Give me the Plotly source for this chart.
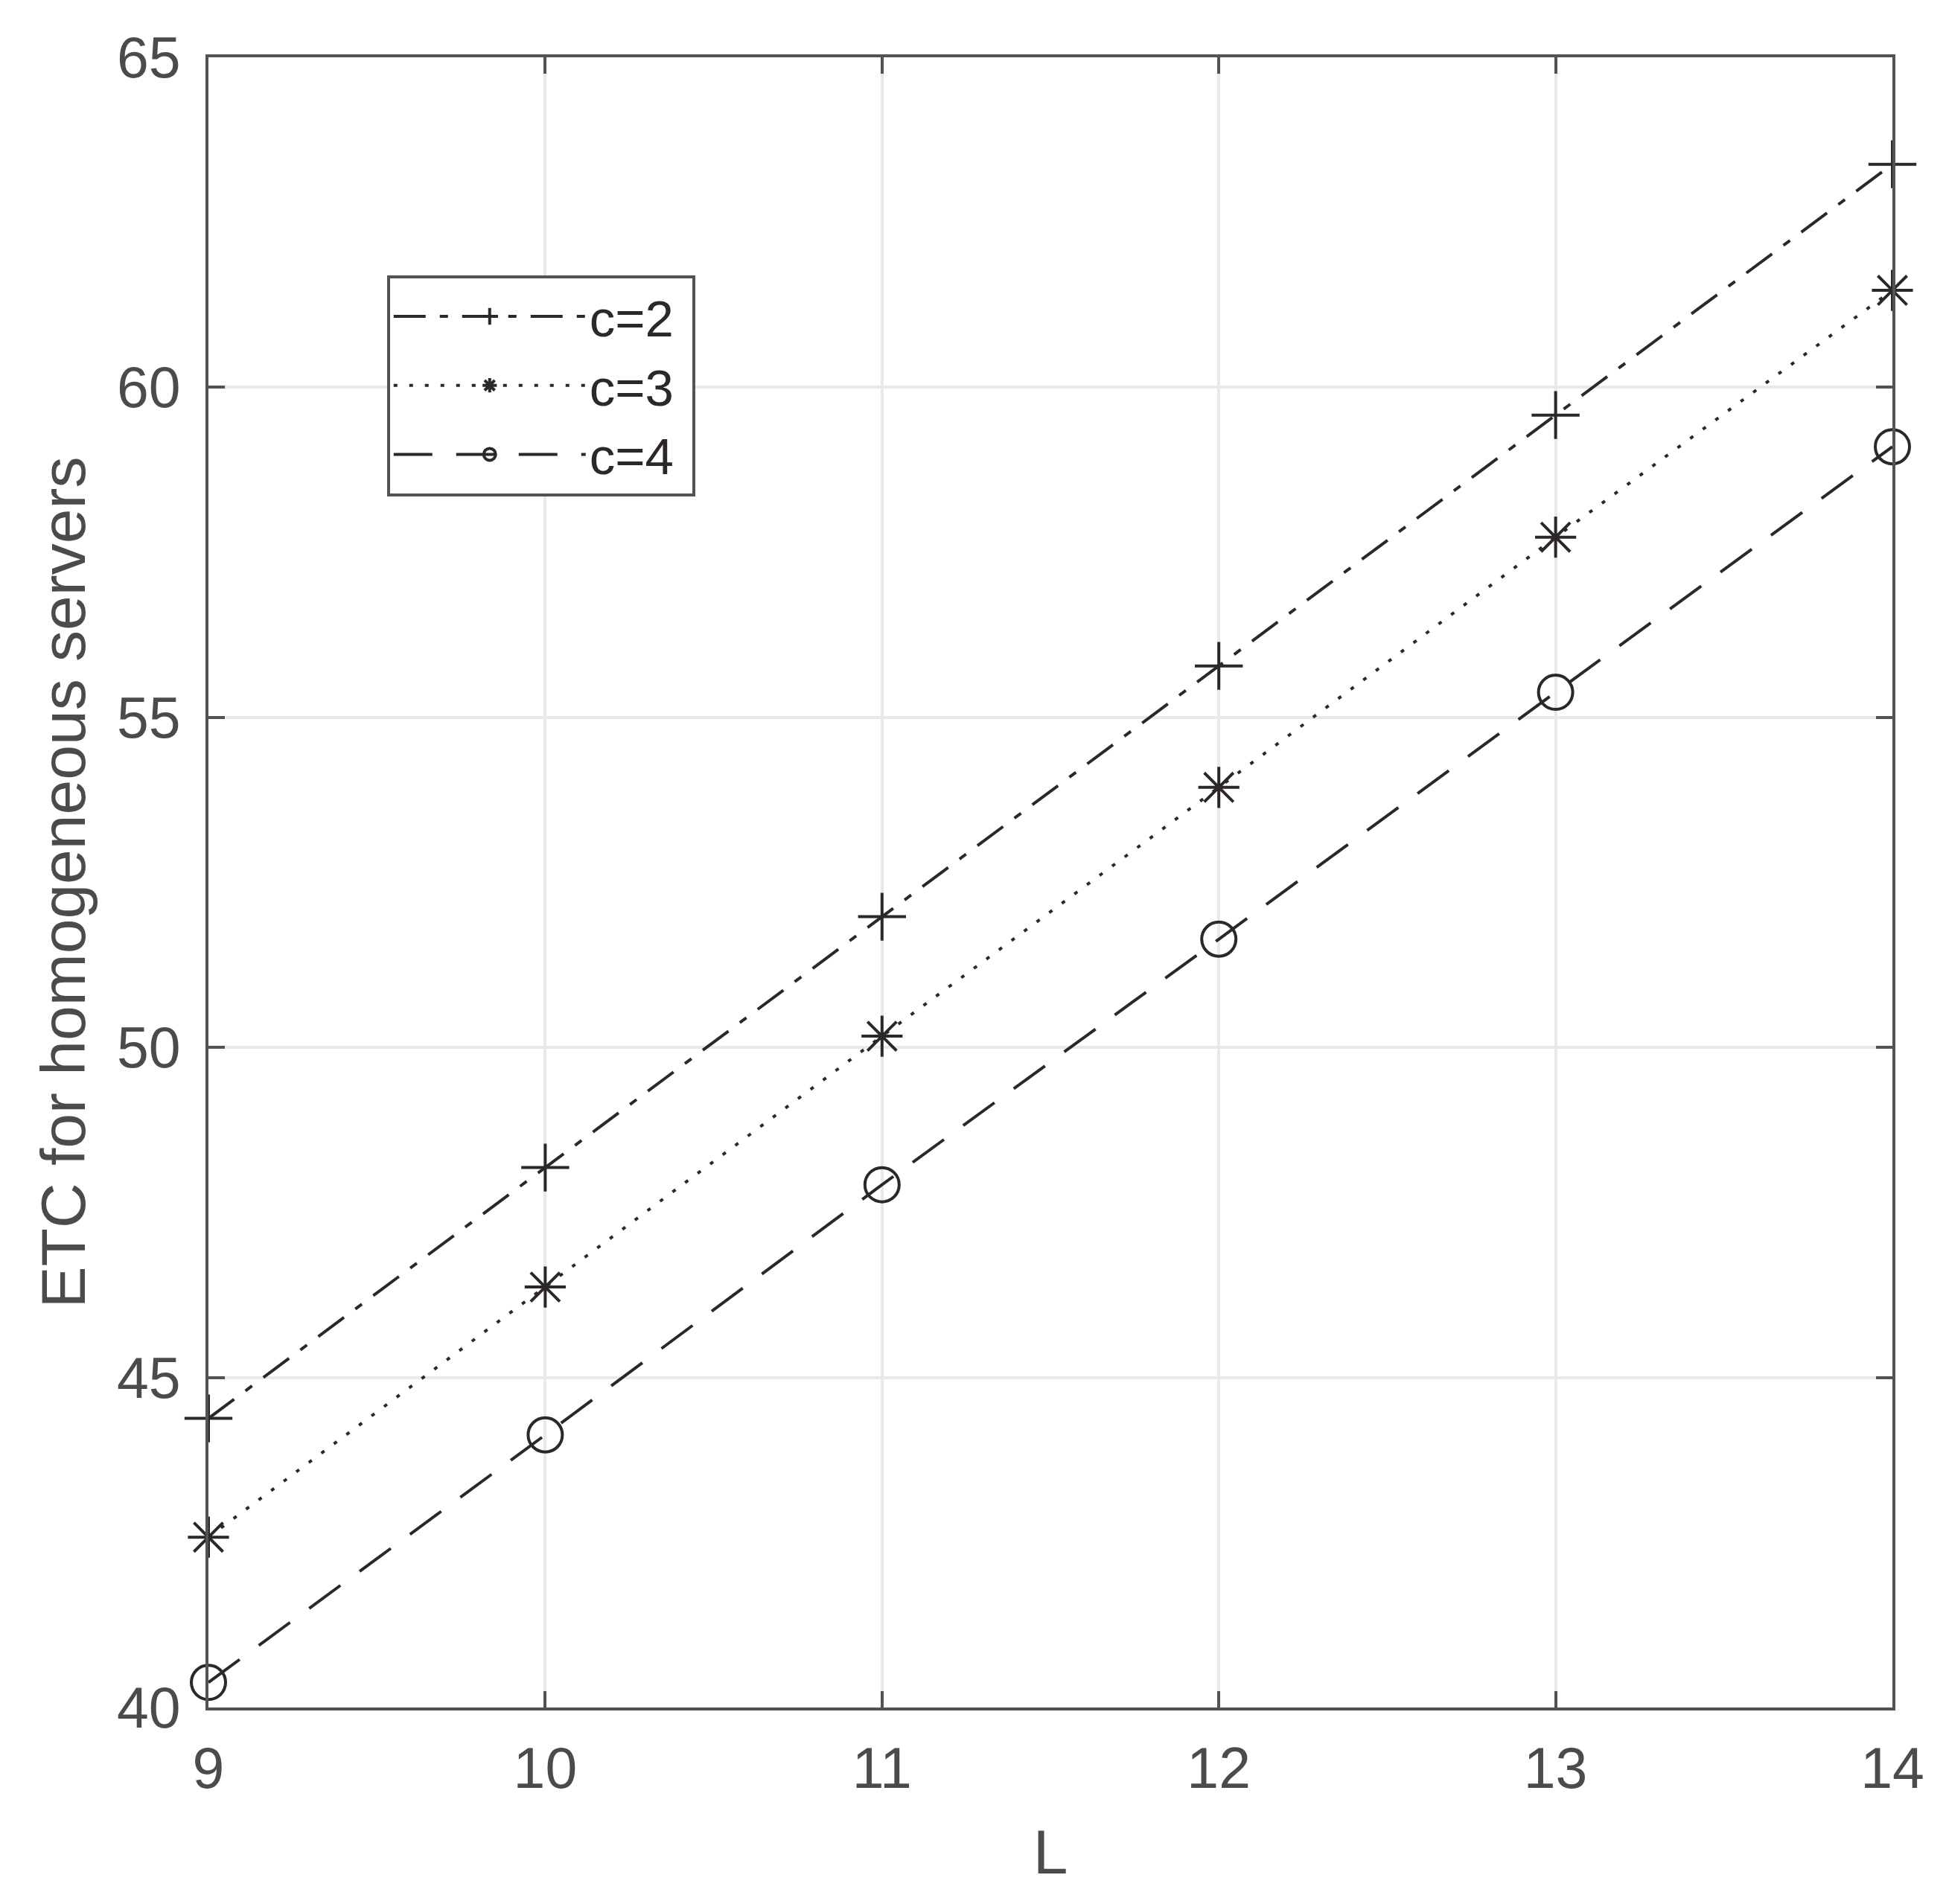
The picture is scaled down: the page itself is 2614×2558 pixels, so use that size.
import plotly.graph_objects as go

# data
L = [9, 10, 11, 12, 13, 14]
etc_c2 = [44.38, 48.18, 51.98, 55.78, 59.58, 63.38]
etc_c3 = [42.58, 46.37, 50.17, 53.94, 57.73, 61.47]
etc_c4 = [40.38, 44.13, 47.92, 51.64, 55.38, 59.10]
series_names = ['c=2', 'c=3', 'c=4']
x_ticks = [9, 10, 11, 12, 13, 14]
y_ticks = [40, 45, 50, 55, 60, 65]

line_col = '#2c2828'
axis_col = '#555252'
grid_col = '#e9e9e9'
font_family = 'Liberation Sans, Arial, Helvetica, sans-serif'

styles = [
    dict(dash='43px,19px,11px,19px', symbol='cross-thin-open'),
    dict(dash='5px,16px', symbol='asterisk-open'),
    dict(dash='52px,32px', symbol='circle-open'),
]

fig = go.Figure()
for name, ys, st in zip(series_names, [etc_c2, etc_c3, etc_c4], styles):
    fig.add_trace(go.Scatter(
        x=L, y=ys, name=name + '\u00a0', mode='lines+markers',
        line=dict(color=line_col, width=4, dash=st['dash']),
        marker=dict(symbol=st['symbol'], size=46, color=line_col,
                    line=dict(color=line_col, width=4)),
        cliponaxis=False,
    ))

axis_common = dict(
    showline=True, linecolor=axis_col, linewidth=4, mirror='ticks',
    ticks='inside', ticklen=22, tickwidth=4, tickcolor=axis_col,
    showgrid=True, gridcolor=grid_col, gridwidth=4, zeroline=False,
    automargin=False,
    tickfont=dict(size=77, color='#4d4a4a', family=font_family),
)

fig.update_xaxes(range=[9, 14], tickvals=x_ticks, ticklabelstandoff=12,
                 title=dict(text='L', font=dict(size=84, color='#4d4a4a', family=font_family), standoff=42),
                 **axis_common)
fig.update_yaxes(range=[40, 65], tickvals=y_ticks, ticklabelstandoff=18,
                 title=dict(text='ETC for homogeneous servers', font=dict(size=84, color='#4d4a4a', family=font_family), standoff=16),
                 **axis_common)

# page body has an 8px default margin, so the figure is 8px smaller
fig.update_layout(
    width=2606, height=2550,
    margin=dict(l=272, r=72, t=69, b=264),
    plot_bgcolor='white', paper_bgcolor='white',
    font=dict(family=font_family, color='#2c2828'),
    legend=dict(x=0.106, y=0.868, xanchor='left', yanchor='top',
                bgcolor='white', bordercolor=axis_col, borderwidth=4,
                font=dict(size=69, color=line_col, family=font_family),
                itemwidth=258),
)

fig.write_html("out.html")
